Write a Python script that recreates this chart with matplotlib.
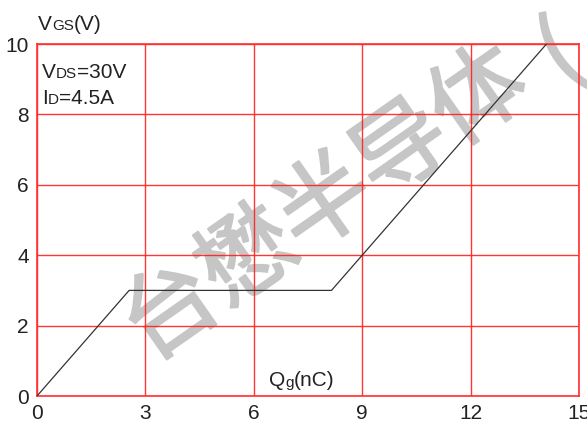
import matplotlib
matplotlib.use("Agg")
import numpy as np
import matplotlib.pyplot as plt
import matplotlib.patheffects as pe
from matplotlib.offsetbox import TextArea, HPacker, AnnotationBbox

# gate charge curve: Qg (nC) vs VGS (V)
qg = [0, 2.55, 8.15, 14.1]
vgs = [0, 3.0, 3.0, 10.0]
x_ticks = [0, 3, 6, 9, 12, 15]
y_ticks = [0, 2, 4, 6, 8, 10]
watermark = ['台', '懋', '半', '导', '体', '(']

plt.rcParams['font.family'] = ['Liberation Sans', 'DejaVu Sans']
BIG, SMALL = 15, 11
TXT = '#222222'
W, H = 587, 424

fig = plt.figure(figsize=(W / 100, H / 100), dpi=100)
ax = fig.add_axes([37 / W, 28 / H, 542 / W, 352 / H])
ax.set_xlim(0, 15)
ax.set_ylim(0, 10)
ax.set_xticks(x_ticks)
ax.set_yticks(y_ticks)
ax.tick_params(length=0, labelsize=BIG, labelcolor=TXT, pad=6)
ax.grid(True, color='#ff2020', linewidth=1.0, alpha=0.9)
for s in ax.spines.values():
    s.set_color('#ff3030')
    s.set_linewidth(1.2)
ax.set_axisbelow(True)

# watermark, one glyph at a time along a 35 degree line
ang = np.deg2rad(35)
step = 94
cx, cy = 326, 206
for i, ch in enumerate(watermark):
    px = cx + (i - 2) * step * np.cos(ang)
    py = cy - (i - 2) * step * np.sin(ang)
    if ch == '(':
        px, py = px + 6, py + 14
    ax.text(px / W, 1 - py / H, ch, transform=fig.transFigure,
            family=['Noto Sans CJK SC'], fontsize=68, color='#c6c6c6',
            rotation=35, ha='center', va='center', rotation_mode='anchor',
            clip_on=False, zorder=0.4,
            path_effects=[pe.withStroke(linewidth=1.5, foreground='#c6c6c6')])

ax.plot(qg, vgs, color='#333333', linewidth=0.9, zorder=5)


# labels with small subscript letters sitting on the baseline
def label(parts, px, py):
    areas = [TextArea(t, textprops=dict(fontsize=sz, color=TXT)) for t, sz in parts]
    box = HPacker(children=areas, align='baseline', pad=0, sep=0)
    ab = AnnotationBbox(box, (px / W, 1 - py / H), xycoords='figure fraction',
                        box_alignment=(0, 0.5), frameon=False, pad=0)
    fig.add_artist(ab)


label([('V', BIG), ('GS', SMALL), ('(V)', BIG)], 38, 25)
label([('V', BIG), ('DS', SMALL), ('=30V', BIG)], 42, 73)
label([('I', BIG), ('D', SMALL), ('=4.5A', BIG)], 42, 98)
label([('Q', BIG), ('g', SMALL), ('(nC)', BIG)], 269, 381)

fig.savefig('out.png', dpi=100)
